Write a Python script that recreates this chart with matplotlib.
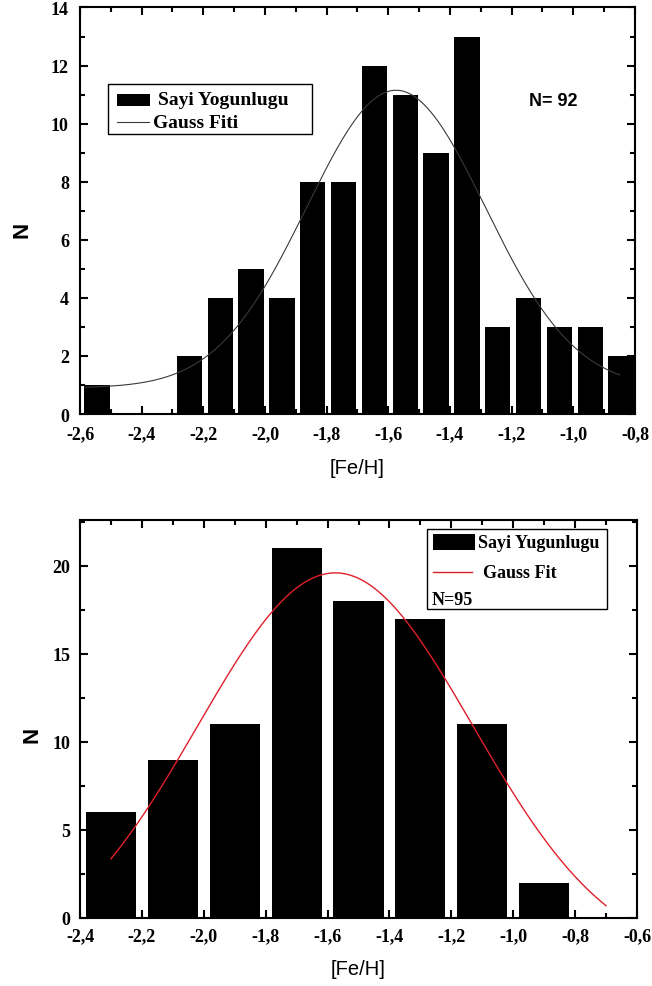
import numpy as np
import matplotlib
matplotlib.use("Agg")
import matplotlib.pyplot as plt
from matplotlib.patches import Rectangle
from matplotlib.ticker import MultipleLocator, FuncFormatter

plt.rcParams['font.family'] = ['Liberation Serif', 'DejaVu Serif']
plt.rcParams['font.weight'] = 'bold'

# upper panel: [Fe/H] histogram, N = 92
top_centers = [-2.545, -2.445, -2.345, -2.245, -2.145, -2.045, -1.945, -1.845, -1.745,
               -1.645, -1.545, -1.445, -1.345, -1.245, -1.145, -1.045, -0.945, -0.845]
top_counts = [1, 0, 0, 2, 4, 5, 4, 8, 8, 12, 11, 9, 13, 3, 4, 3, 3, 2]
# gauss fit: y0, A, xc, sigma, x range
top_fit = dict(y0=0.9, A=10.25, xc=-1.575, sigma=0.29, x0=-2.584, x1=-0.849)

# lower panel: [Fe/H] histogram, N = 95
bot_centers = [-2.3, -2.1, -1.9, -1.7, -1.5, -1.3, -1.1, -0.9]
bot_counts = [6, 9, 11, 21, 18, 17, 11, 2]
bot_fit = dict(y0=-2.5, A=22.1, xc=-1.575, sigma=0.445, x0=-2.30, x1=-0.70)


def gauss_curve(p):
    x = np.linspace(p['x0'], p['x1'], 300)
    y = p['y0'] + p['A'] * np.exp(-(x - p['xc']) ** 2 / (2 * p['sigma'] ** 2))
    return x, y


def comma(v, pos):
    return f"{v:.1f}".replace('.', ',')


def style_axes(ax, ymaj, ymin, xpad, ypad):
    for s in ax.spines.values():
        s.set_linewidth(1.5)
    ax.xaxis.set_major_locator(MultipleLocator(0.2))
    ax.xaxis.set_minor_locator(MultipleLocator(0.1))
    ax.yaxis.set_major_locator(MultipleLocator(ymaj))
    ax.yaxis.set_minor_locator(MultipleLocator(ymin))
    ax.xaxis.set_major_formatter(FuncFormatter(comma))
    ax.yaxis.set_major_formatter(FuncFormatter(lambda v, p: f"{v:g}"))
    ax.tick_params(which='both', direction='in', top=True, right=True, width=1.5)
    ax.tick_params(which='major', length=6, labelsize=13)
    ax.tick_params(which='minor', length=3.5)
    ax.tick_params(axis='x', pad=xpad)
    ax.tick_params(axis='y', pad=ypad)


fig = plt.figure(figsize=(6.52, 9.87), dpi=100)

# ---- upper panel ----
ax1 = fig.add_axes([0.1227, 0.5795, 0.8512, 0.4119])
ax1.bar(top_centers, top_counts, width=0.082, color='black', edgecolor='none')
fx, fy = gauss_curve(top_fit)
ax1.plot(fx, fy, color='#3a3a3a', lw=0.8)
ax1.set_xlim(-2.6, -0.8)
ax1.set_ylim(0, 14)
style_axes(ax1, 2, 1, 8, 8)
ax1.set_xlabel('[Fe/H]', family='Liberation Sans', fontweight='normal', fontsize=14.5)
ax1.xaxis.set_label_coords(0.5, -0.108)
ax1.set_ylabel('N', family='Liberation Sans', fontweight='bold', fontsize=16)
ax1.yaxis.set_label_coords(-0.085, 0.455)

# legend box
ax1.add_patch(Rectangle((0.0505, 0.689), 0.3675, 0.123, transform=ax1.transAxes,
                        fill=False, edgecolor='black', lw=1.0))
ax1.add_patch(Rectangle((0.0667, 0.758), 0.0593, 0.029, transform=ax1.transAxes,
                        facecolor='black', edgecolor='none'))
ax1.text(0.1405, 0.7725, 'Sayi Yogunlugu', transform=ax1.transAxes, va='center', fontsize=14)
ax1.plot([0.0667, 0.124], [0.718, 0.718], transform=ax1.transAxes, color='#3a3a3a', lw=0.8)
ax1.text(0.1315, 0.718, 'Gauss Fiti', transform=ax1.transAxes, va='center', fontsize=14)
ax1.text(0.852, 0.772, 'N= 92', transform=ax1.transAxes, ha='center', va='center',
         family='Liberation Sans', fontweight='bold', fontsize=13)

# ---- lower panel ----
ax2 = fig.add_axes([0.1227, 0.0689, 0.8543, 0.4032])
ax2.bar(bot_centers, bot_counts, width=0.162, color='black', edgecolor='none')
fx, fy = gauss_curve(bot_fit)
ax2.plot(fx, fy, color='#e0202a', lw=1.0)
ax2.set_xlim(-2.4, -0.6)
ax2.set_ylim(0, 22.6)
style_axes(ax2, 5, 2.5, 7, 7)
ax2.set_xlabel('[Fe/H]', family='Liberation Sans', fontweight='normal', fontsize=14.5)
ax2.xaxis.set_label_coords(0.5, -0.103)
ax2.set_ylabel('N', family='Liberation Sans', fontweight='bold', fontsize=16)
ax2.yaxis.set_label_coords(-0.068, 0.462)

ax2.add_patch(Rectangle((0.623, 0.776), 0.323, 0.201, transform=ax2.transAxes,
                        fill=False, edgecolor='black', lw=1.0))
ax2.add_patch(Rectangle((0.634, 0.925), 0.075, 0.04, transform=ax2.transAxes,
                        facecolor='black', edgecolor='none'))
ax2.text(0.715, 0.943, 'Sayi Yugunlugu', transform=ax2.transAxes, va='center', fontsize=13)
ax2.plot([0.634, 0.704], [0.869, 0.869], transform=ax2.transAxes, color='#e0202a', lw=1.0)
ax2.text(0.7235, 0.869, 'Gauss Fit', transform=ax2.transAxes, va='center', fontsize=13)
ax2.text(0.632, 0.8015, 'N=95', transform=ax2.transAxes, va='center', fontsize=13)

fig.savefig('out.png', dpi=100)
